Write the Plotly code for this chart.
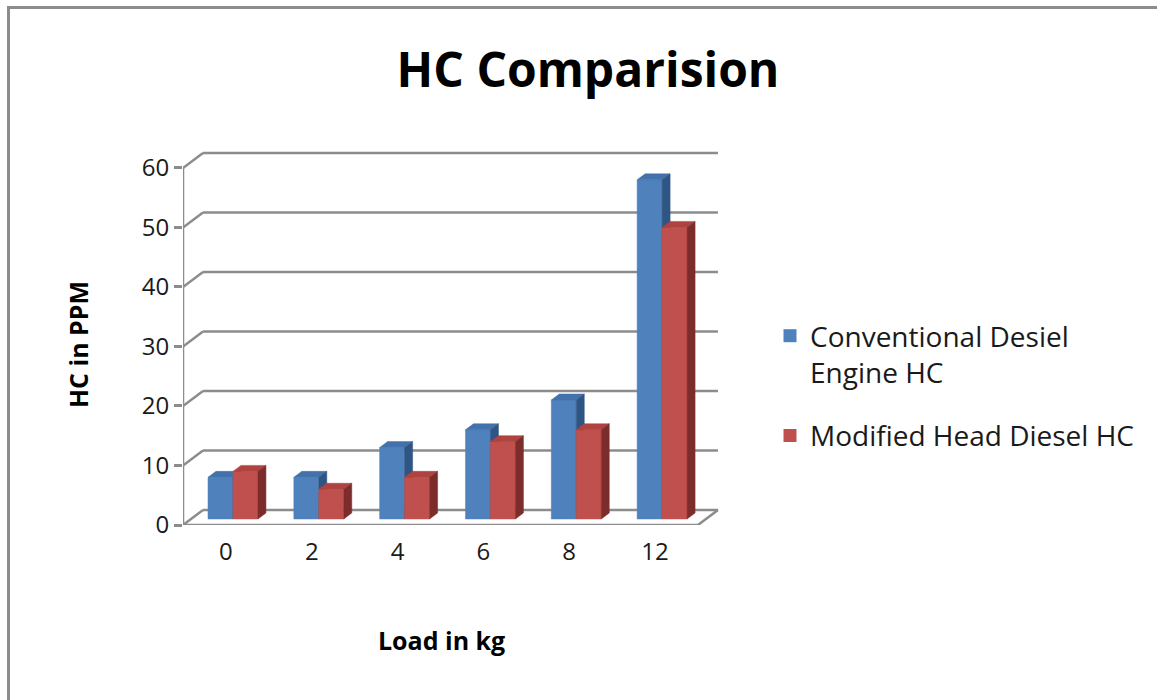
import plotly.graph_objects as go

# ---- data -------------------------------------------------------------
loads = ["0", "2", "4", "6", "8", "12"]
conventional_hc = [7, 7, 12, 15, 20, 57]
modified_hc = [8, 5, 7, 13, 15, 49]
y_ticks = [0, 10, 20, 30, 40, 50, 60]

series_names = ["Conventional Desiel<br>Engine HC", "Modified Head Diesel HC"]

# ---- styling ------------------------------------------------------------
FONT = "Open Sans"
GRID = "#8c8c8c"
FACE = {
    "blue": ("#4f81bd", "#4372aa", "#2e5583"),   # front, top, side
    "red": ("#c0504d", "#ae4340", "#7c2d2b"),
}

# pseudo-3D geometry (in axis units): depth of the back wall and of the bars
DEPTH_X, DEPTH_Y = 0.233, 2.52
BAR_START, BAR_DEPTH = 0.4, 0.4        # fractions of the wall depth
BAR_LEFT, BAR_W = 0.198, 0.291         # within one category slot

n = len(loads)
X_MAX, Y_MAX = 6.35, 64.7

fig = go.Figure()


def add_lines(xs, ys):
    fig.add_trace(go.Scatter(
        x=xs, y=ys, mode="lines", line=dict(color=GRID, width=2.5),
        hoverinfo="skip", showlegend=False, cliponaxis=False))


# back wall gridlines, side-wall diagonals and floor
gx, gy = [], []
for v in y_ticks:
    gx += [DEPTH_X, n + DEPTH_X, None, 0, DEPTH_X, None]
    gy += [v + DEPTH_Y, v + DEPTH_Y, None, v, v + DEPTH_Y, None]
gx += [0, n, n + DEPTH_X, None, 0, 0]
gy += [0, 0, DEPTH_Y, None, 0, y_ticks[-1]]
add_lines(gx, gy)


def bar_faces(values, slot):
    ox = BAR_START * DEPTH_X
    oy = BAR_START * DEPTH_Y
    dx = BAR_DEPTH * DEPTH_X
    dy = BAR_DEPTH * DEPTH_Y
    front, top, side = ([], []), ([], []), ([], [])
    for i, v in enumerate(values):
        x0 = i + BAR_LEFT + slot * BAR_W + ox
        x1 = x0 + BAR_W
        front[0].extend([x0, x1, x1, x0, x0, None])
        front[1].extend([oy, oy, v + oy, v + oy, oy, None])
        top[0].extend([x0, x1, x1 + dx, x0 + dx, x0, None])
        top[1].extend([v + oy, v + oy, v + oy + dy, v + oy + dy, v + oy, None])
        side[0].extend([x1, x1 + dx, x1 + dx, x1, x1, None])
        side[1].extend([oy, oy + dy, v + oy + dy, v + oy, oy, None])
    return front, top, side


for slot, (vals, key) in enumerate([(conventional_hc, "blue"), (modified_hc, "red")]):
    faces = bar_faces(vals, slot)
    for (xs, ys), color in zip(faces, FACE[key]):
        fig.add_trace(go.Scatter(
            x=xs, y=ys, mode="lines", fill="toself", fillcolor=color,
            line=dict(color=color, width=0.5), hoverinfo="skip",
            showlegend=False, cliponaxis=False))

# legend entries
for slot, (name, key) in enumerate(zip(series_names, ["blue", "red"])):
    fig.add_trace(go.Scatter(
        x=[None], y=[None], mode="markers", name=name,
        legendgroup=f"g{slot}",
        marker=dict(symbol="square", size=13, color=FACE[key][0])))

# ---- layout --------------------------------------------------------------
L, T, W, H = 183, 140, 1157, 700
plot_w = X_MAX * 85.83
plot_h = Y_MAX * 5.95


def px_to_paper(px, py):
    return (px - L) / plot_w, (T + plot_h - py) / plot_h


bx0, by1 = px_to_paper(8.5, 7.5)
bx1, by0 = px_to_paper(1170, 720)

fig.update_layout(
    width=W, height=H,
    margin=dict(l=L, t=T, r=W - L - plot_w, b=H - T - plot_h, pad=0),
    paper_bgcolor="white", plot_bgcolor="white",
    font=dict(family=FONT, color="#1a1a1a"),
    title=dict(text="<b>HC Comparision</b>", xref="container", yref="container",
               x=588 / W, y=1 - 70 / H, xanchor="center", yanchor="middle",
               font=dict(family=FONT, size=48, color="#000000")),
    xaxis=dict(range=[0, X_MAX], tickvals=[i + 0.5 for i in range(n)],
               ticktext=loads, showgrid=False, zeroline=False, showline=False,
               ticks="", tickfont=dict(size=24, color="#1a1a1a"),
               ticklabelstandoff=10, automargin=False, fixedrange=True),
    yaxis=dict(range=[0, Y_MAX], tickvals=y_ticks, showgrid=False,
               zeroline=False, showline=False, ticks="outside", ticklen=8,
               tickwidth=2.5, tickcolor=GRID, tickfont=dict(size=24, color="#1a1a1a"),
               automargin=False, fixedrange=True),
    legend=dict(xref="container", yref="container", x=770 / W, y=1 - 311 / H,
                xanchor="left", yanchor="top", valign="top",
                font=dict(family=FONT, size=28, color="#1a1a1a"),
                tracegroupgap=24, bgcolor="rgba(0,0,0,0)"),
    showlegend=True,
    annotations=[
        dict(text="<b>HC in PPM</b>", xref="paper", yref="paper",
             x=px_to_paper(78, 345)[0], y=px_to_paper(78, 345)[1],
             textangle=-90, showarrow=False, xanchor="center", yanchor="middle",
             font=dict(family=FONT, size=25, color="#000000")),
        dict(text="<b>Load in kg</b>", xref="paper", yref="paper",
             x=px_to_paper(442, 640)[0], y=px_to_paper(442, 640)[1],
             showarrow=False, xanchor="center", yanchor="middle",
             font=dict(family=FONT, size=25, color="#000000")),
    ],
    shapes=[dict(type="rect", xref="paper", yref="paper",
                 x0=bx0, y0=by0, x1=bx1, y1=by1,
                 line=dict(color="#8c8c8c", width=3), layer="below")],
)

fig.write_html("out.html")
